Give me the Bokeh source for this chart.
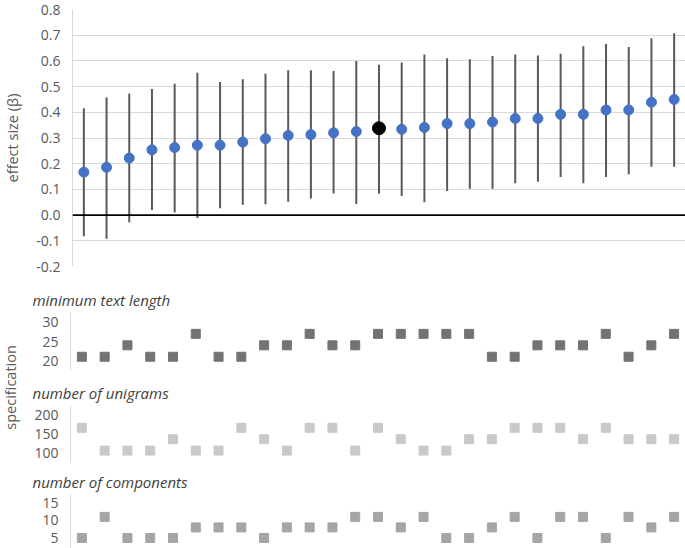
import math
from bokeh.plotting import figure
from bokeh.models import Range1d, Span, FixedTicker, PrintfTickFormatter, Label, ColumnDataSource
from bokeh.layouts import column, row
from bokeh.embed import file_html
from bokeh.resources import INLINE

# ---- data ----
spec_index = list(range(1, 28))
effect = [0.167, 0.186, 0.222, 0.254, 0.263, 0.272, 0.272, 0.284, 0.297, 0.310, 0.313, 0.320, 0.325, 0.338,
          0.334, 0.341, 0.356, 0.356, 0.362, 0.376, 0.376, 0.392, 0.392, 0.409, 0.409, 0.439, 0.450]
ci_upper = [0.416, 0.458, 0.473, 0.491, 0.511, 0.554, 0.518, 0.529, 0.550, 0.564, 0.564, 0.561, 0.600, 0.585,
            0.594, 0.625, 0.610, 0.606, 0.619, 0.625, 0.621, 0.628, 0.657, 0.666, 0.654, 0.688, 0.708]
ci_lower = [-0.082, -0.092, -0.028, 0.020, 0.010, -0.011, 0.027, 0.040, 0.042, 0.052, 0.065, 0.084, 0.043, 0.083,
            0.074, 0.050, 0.094, 0.103, 0.103, 0.124, 0.130, 0.148, 0.124, 0.148, 0.159, 0.188, 0.188]
highlight = 14  # the specification shown in black

min_text_length = [21, 21, 24, 21, 21, 27, 21, 21, 24, 24, 27, 24, 24, 27, 27, 27, 27, 27, 21, 21, 24, 24, 24, 27, 21, 24, 27]
n_unigrams = [165, 105, 105, 105, 135, 105, 105, 165, 135, 105, 165, 165, 105, 165, 135, 105, 105, 135, 135, 165,
              165, 165, 135, 165, 135, 135, 135]
n_components = [5, 11, 5, 5, 5, 8, 8, 8, 5, 8, 8, 8, 11, 11, 8, 11, 5, 5, 8, 11, 5, 11, 11, 5, 11, 8, 11]

effect_ticks = [-0.2, -0.1, 0.0, 0.1, 0.2, 0.3, 0.4, 0.5, 0.6, 0.7, 0.8]
mtl_ticks = [20, 25, 30]
uni_ticks = [100, 150, 200]
comp_ticks = [5, 10, 15]

FONT = "Open Sans"
TICK_COLOR = "#595959"
W = 685
LEFT = 70
LAB_W = 22

xr = Range1d(0.5, 27.5)


def style_yaxis(f, ticks):
    f.yaxis.ticker = FixedTicker(ticks=ticks)
    f.yaxis.axis_line_color = "#d9d9d9"
    f.yaxis.major_tick_line_color = None
    f.yaxis.minor_tick_line_color = None
    f.yaxis.major_tick_out = 0
    f.yaxis.minor_tick_out = 0
    f.yaxis.major_label_text_font = FONT
    f.yaxis.major_label_text_font_size = "14px"
    f.yaxis.major_label_text_color = TICK_COLOR
    f.yaxis.major_label_standoff = 12


# ---- main effect-size panel ----
p = figure(width=W, height=275, x_range=xr, y_range=Range1d(-0.2, 0.8),
           output_backend="svg", toolbar_location=None,
           min_border_left=LEFT, min_border_right=0, min_border_top=9, min_border_bottom=9)
p.outline_line_color = None
p.xaxis.visible = False
p.xgrid.grid_line_color = None
p.ygrid.ticker = FixedTicker(ticks=effect_ticks)
p.ygrid.grid_line_color = "#d9d9d9"
style_yaxis(p, effect_ticks)
p.yaxis.formatter = PrintfTickFormatter(format="%.1f")
p.yaxis.axis_label = "effect size (β)"
p.yaxis.axis_label_text_font = FONT
p.yaxis.axis_label_text_font_size = "14.5px"
p.yaxis.axis_label_text_font_style = "normal"
p.yaxis.axis_label_text_color = TICK_COLOR
p.yaxis.axis_label_standoff = 11

p.add_layout(Span(location=0, dimension="width", line_color="black", line_width=1.6))

src = ColumnDataSource(dict(x=spec_index, y=effect, lo=ci_lower, hi=ci_upper))
p.segment(x0="x", y0="lo", x1="x", y1="hi", source=src, line_color="#595959", line_width=2)
others = [i for i in range(len(spec_index)) if spec_index[i] != highlight]
p.scatter([spec_index[i] for i in others], [effect[i] for i in others], size=10,
          fill_color="#4472c4", line_color="#4472c4", marker="circle")
hi_i = spec_index.index(highlight)
p.scatter([spec_index[hi_i]], [effect[hi_i]], size=13, fill_color="black", line_color="black", marker="circle")


def spec_panel(title, values, ticks, yr, color, height, top, bottom):
    f = figure(width=W - LAB_W, height=height, x_range=xr, y_range=Range1d(*yr),
               output_backend="svg", toolbar_location=None,
               min_border_left=LEFT - LAB_W, min_border_right=0, min_border_top=top, min_border_bottom=bottom)
    f.outline_line_color = None
    f.xaxis.visible = False
    f.xgrid.grid_line_color = None
    f.ygrid.grid_line_color = None
    style_yaxis(f, ticks)
    f.title.text = title
    f.title.text_font = FONT
    f.title.text_font_size = "15px"
    f.title.text_font_style = "italic"
    f.title.text_color = "#404040"
    f.title.align = "left"
    f.title.offset = -38
    f.title.standoff = 6
    f.scatter(spec_index, values, marker="square", size=9, fill_color=color, line_color=color)
    return f


p1 = spec_panel("minimum text length", min_text_length, mtl_ticks, (17.4, 32.6), "#737373", 97, 37, 2)
p2 = spec_panel("number of unigrams", n_unigrams, uni_ticks, (73.7, 223.7), "#c9c9c9", 92, 33, 2)
p3 = spec_panel("number of components", n_components, comp_ticks, (2.0, 17.37), "#a5a5a5", 84, 30, 0)

# narrow strip that carries the shared "specification" label
lab = figure(width=LAB_W, height=97 + 92 + 84, x_range=Range1d(0, 1), y_range=Range1d(0, 1),
             output_backend="svg", toolbar_location=None,
             min_border_left=0, min_border_right=0, min_border_top=0, min_border_bottom=0)
lab.axis.visible = False
lab.grid.grid_line_color = None
lab.outline_line_color = None
lab.add_layout(Label(x=0.45, y=0.59, text="specification",
                     angle=math.pi / 2, text_align="center", text_baseline="middle",
                     text_font=FONT, text_font_size="14.5px", text_color=TICK_COLOR))

layout = column(p, row(lab, column(p1, p2, p3, spacing=0), spacing=0), spacing=0)
open("out.html", "w").write(file_html(layout, INLINE))
